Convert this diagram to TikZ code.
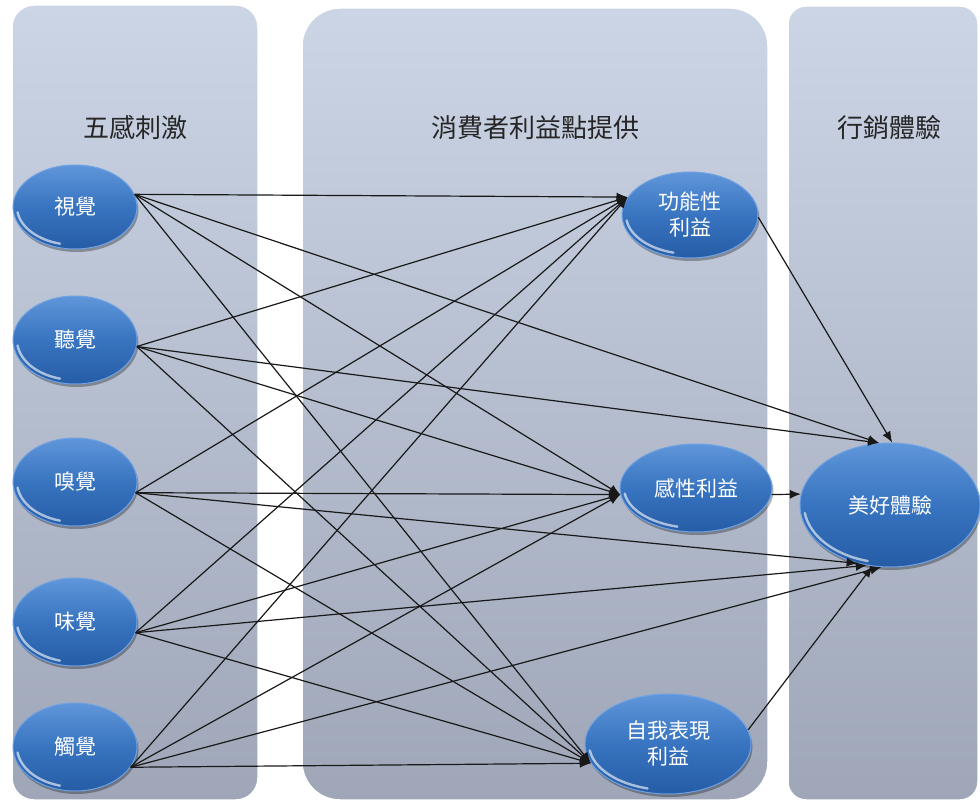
\documentclass[tikz,border=0pt]{standalone}
\usepackage{fontspec}
\newfontfamily\cjk{Noto Sans CJK TC}
\usetikzlibrary{shapes.geometric,arrows.meta,shadows}
\definecolor{ptop}{RGB}{204,213,229}
\definecolor{pbot}{RGB}{158,166,184}
\definecolor{btop}{RGB}{96,150,218}
\definecolor{bmid}{RGB}{56,116,192}
\definecolor{bbot}{RGB}{38,92,166}
\definecolor{bdraw}{RGB}{110,162,226}
\begin{document}
\begin{tikzpicture}[x=1pt,y=-1pt,
  panel/.style={top color=ptop, bottom color=pbot, draw=white, line width=1.5pt},
  title/.style={font=\cjk\fontsize{26}{30}\selectfont, text=black!85},
  link/.style={line width=1.2pt, draw=black!90, -{Latex[length=11pt,width=9pt]}},
  bub/.style 2 args={ellipse, minimum width=2*#1, minimum height=2*#2, inner sep=0pt,
    top color=btop, bottom color=bbot, middle color=bmid, draw=bdraw, line width=1pt,
    text=white, font=\cjk\fontsize{21}{26}\selectfont, align=center,
    drop shadow={shadow xshift=1.5pt, shadow yshift=-3pt, opacity=.3, fill=black},
    path picture={\draw[white, opacity=.6, line width=2.4pt, line cap=round]
      ([shift={(172:#1-4 and #2-4)}]path picture bounding box.center)
      arc[start angle=172, end angle=105, x radius=#1-4, y radius=#2-4];}}
]
\useasboundingbox[fill=white] (0,0) rectangle (980,805);
% panels
\path[panel, rounded corners=22pt] (12,5) rectangle (258,800);
\path[panel, rounded corners=38pt] (302,8) rectangle (768,800);
\path[panel, rounded corners=18pt] (788,6) rectangle (978,800);
% titles
\node[title] (t1) at (135,128) {五感刺激};
\node[title] (t2) at (535,128) {消費者利益點提供};
\node[title] (t3) at (889,128) {行銷體驗};
% senses
\node[bub={62}{42}] (vis) at (75,207) {視覺};
\node[bub={62}{44}] (aud) at (75,340) {聽覺};
\node[bub={62}{44}] (olf) at (75,482) {嗅覺};
\node[bub={62}{44}] (gus) at (75,622) {味覺};
\node[bub={62}{44}] (tac) at (75,747) {觸覺};
% benefits
\node[bub={68}{43}] (func) at (690,215) {功能性\\利益};
\node[bub={76}{44}] (emo) at (696,488) {感性利益};
\node[bub={83}{50}] (self) at (668,744) {自我表現\\利益};
% result
\node[bub={90}{62}] (good) at (890,505) {美好體驗};
% connectors from senses
\foreach \s/\a in {vis/12, aud/-6, olf/-10, gus/-10, tac/-20}{
  \draw[link] (\s.\a) -- (func.164);
  \draw[link] (\s.\a) -- (emo.185);
  \draw[link] (\s.\a) -- (self.194);
}
\draw[link] (vis.12) -- (good.100);
\draw[link] (aud.-6) -- (good.100);
\draw[link] (olf.-10) -- (good.241);
\draw[link] (gus.-10) -- (good.249);
\draw[link] (tac.-20) -- (good.262);
% benefits to result
\draw[link] (func.-2) -- (good.88);
\draw[link] (emo.-5) -- (good.173);
\draw[link] (self.10) -- (good.254);
\end{tikzpicture}
\end{document}
